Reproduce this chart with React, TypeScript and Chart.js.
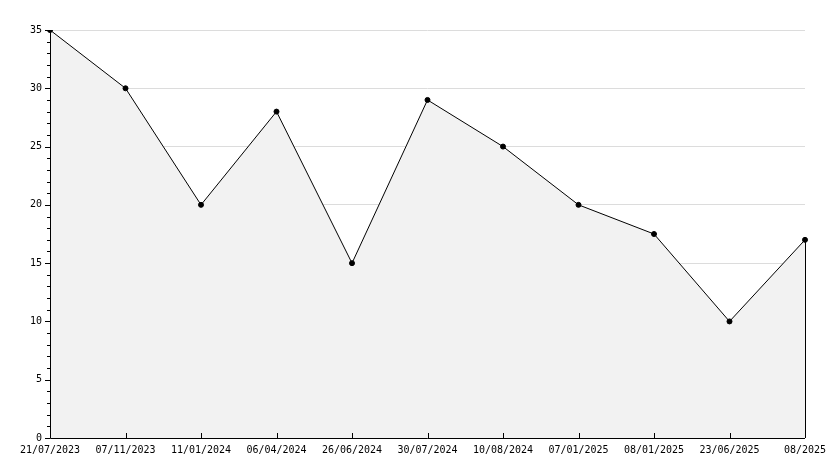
import React, { useEffect, useRef } from "react";
import { Chart, registerables } from "chart.js";

Chart.register(...registerables);

const categories = [
  "21/07/2023", "07/11/2023", "11/01/2024", "06/04/2024", "26/06/2024",
  "30/07/2024", "10/08/2024", "07/01/2025", "08/01/2025", "23/06/2025", "08/2025",
];
const values = [35, 30, 20, 28, 15, 29, 25, 20, 17.5, 10, 17];
const yMin = 0;
const yMax = 35;
const yMajorStep = 5;
const yMinorStep = 1;

const FONT = "'DejaVu Sans Mono', monospace";

const axisDecor = {
  id: "axisDecor",
  afterDatasetsDraw(chart: any) {
    const { ctx, chartArea, scales } = chart;
    const x = scales.x;
    const y = scales.y;
    ctx.save();
    ctx.strokeStyle = "#000";
    ctx.lineWidth = 1;
    ctx.beginPath();
    for (let v = yMin; v <= yMax; v += yMinorStep) {
      const py = Math.round(y.getPixelForValue(v)) + 0.5;
      const len = v % yMajorStep === 0 ? 5 : 3;
      ctx.moveTo(chartArea.left - len, py);
      ctx.lineTo(chartArea.left, py);
    }
    for (let i = 1; i < categories.length; i++) {
      const px = Math.round(x.getPixelForValue(i)) + 0.5;
      ctx.moveTo(px, chartArea.bottom);
      ctx.lineTo(px, chartArea.bottom - 5);
    }
    const meta = chart.getDatasetMeta(0);
    const last = meta.data[meta.data.length - 1];
    const lx = Math.round(last.x) + 0.5;
    ctx.moveTo(lx, last.y);
    ctx.lineTo(lx, chartArea.bottom);
    const ax = Math.round(chartArea.left) + 0.5;
    const ay = Math.round(chartArea.bottom) + 0.5;
    ctx.moveTo(ax, chartArea.top);
    ctx.lineTo(ax, ay);
    ctx.lineTo(chartArea.right, ay);
    ctx.stroke();
    ctx.restore();
  },
};

export default function App() {
  const ref = useRef<HTMLCanvasElement>(null);
  useEffect(() => {
    document.body.style.margin = "0";
    const chart = new Chart(ref.current!, {
      type: "line",
      data: {
        labels: categories,
        datasets: [
          {
            data: values,
            borderColor: "#000",
            borderWidth: 1,
            backgroundColor: "#f2f2f2",
            fill: "origin",
            tension: 0,
            pointRadius: 2.5,
            pointStyle: "circle",
            pointBackgroundColor: "#000",
            pointBorderColor: "#000",
            pointBorderWidth: 1,
          },
        ],
      },
      options: {
        animation: false,
        responsive: false,
        maintainAspectRatio: false,
        layout: { padding: { top: 30, right: 29, left: 0, bottom: 0 } },
        plugins: { legend: { display: false }, tooltip: { enabled: false } },
        scales: {
          x: {
            type: "category",
            offset: false,
            border: { display: false },
            grid: { display: false, drawTicks: false },
            ticks: {
              color: "#000",
              font: { family: FONT, size: 10 },
              padding: 6,
              maxRotation: 0,
              autoSkip: false,
            },
            afterFit(scale: any) {
              scale.height = 30;
            },
          },
          y: {
            min: yMin,
            max: yMax,
            border: { display: false },
            grid: { color: "#dcdcdc", drawTicks: false, lineWidth: 1 },
            ticks: {
              stepSize: yMajorStep,
              color: "#000",
              font: { family: FONT, size: 10 },
              padding: 8,
            },
            afterFit(scale: any) {
              scale.width = 50;
            },
          },
        },
      },
      plugins: [axisDecor],
    });
    return () => chart.destroy();
  }, []);
  return (
    <div style={{ width: 834, height: 468, background: "#fff" }}>
      <canvas ref={ref} width={834} height={468} style={{ display: "block" }} />
    </div>
  );
}
